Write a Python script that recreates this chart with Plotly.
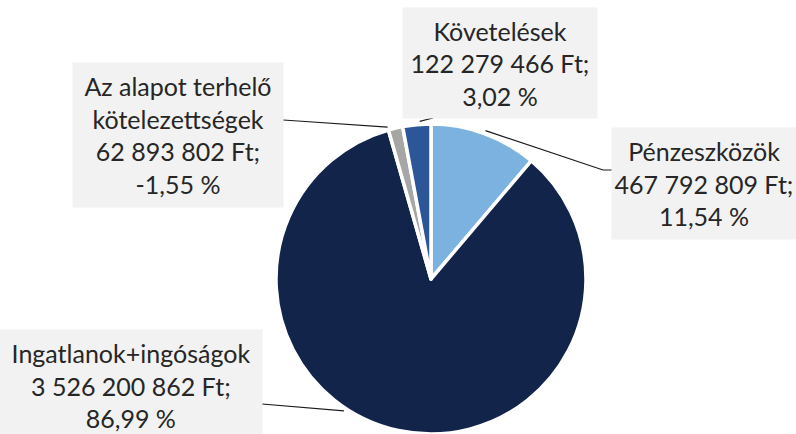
import math
import plotly.graph_objects as go

# ---- data ----
categories = ["Pénzeszközök", "Ingatlanok+ingóságok", "Az alapot terhelő<br>kötelezettségek", "Követelések"]
amounts = [467792809, 3526200862, 62893802, 122279466]
amount_labels = ["467 792 809 Ft;", "3 526 200 862 Ft;", "62 893 802 Ft;", "122 279 466 Ft;"]
percent_labels = ["11,54 %", "86,99 %", "-1,55 %", "3,02 %"]
colors = ["#7CB2DF", "#12244A", "#A6A6A6", "#2C5697"]

W, H = 796, 434
CX, CY, R = 431, 279, 155

fig = go.Figure()
fig.add_trace(go.Pie(
    labels=[c.replace("<br>", " ") for c in categories],
    values=amounts,
    sort=False,
    direction="clockwise",
    rotation=0,
    textinfo="none",
    hoverinfo="label+value",
    marker=dict(colors=colors, line=dict(color="white", width=3.5)),
    domain=dict(x=[(CX - R) / W, (CX + R) / W], y=[1 - (CY + R) / H, 1 - (CY - R) / H]),
    showlegend=False,
))

def px(x):
    return x / W

def py(y):
    return 1 - y / H

# label boxes: (center x, center y, width, height) in px
boxes = [(704, 183.5, 184, 111), (131, 385, 262, 111), (178, 135, 210, 144), (500, 63, 194, 110)]
# where along each slice the leader line attaches (fraction of slice), and the box-side endpoint/elbow
attach_frac = [0.5, 0.57, 0.0, 0.61]
elbows = [[(603, 170), (612, 170)], [(262, 404)], [(298, 121), (283, 120)], [(433, 118)]]

total = sum(amounts)
cum = 0
annotations = []
shapes = []
for i, cat in enumerate(categories):
    start = cum / total * 360
    span = amounts[i] / total * 360
    cum += amounts[i]
    ang = math.radians(start + attach_frac[i] * span)
    rr = R + 3
    ex = CX + rr * math.sin(ang)
    ey = CY - rr * math.cos(ang)
    pts = [(ex, ey)] + elbows[i]
    path = "M " + " L ".join(f"{px(x):.5f},{py(y):.5f}" for x, y in pts)
    shapes.append(dict(type="path", xref="paper", yref="paper", path=path,
                       line=dict(color="#1a1a1a", width=1.2)))
    bx, by, bw, bh = boxes[i]
    annotations.append(dict(
        x=px(bx), y=py(by), xref="paper", yref="paper", xanchor="center", yanchor="middle",
        text=f"{cat}<br>{amount_labels[i]}<br>{percent_labels[i]}",
        showarrow=False, align="center", width=bw, height=bh, valign="middle",
        bgcolor="#F2F2F2", borderpad=0,
        font=dict(family="Lato", size=25, color="#262626"),
    ))

fig.update_layout(
    width=W, height=H,
    margin=dict(l=0, r=0, t=0, b=0),
    paper_bgcolor="white", plot_bgcolor="white",
    annotations=annotations, shapes=shapes,
)
fig.write_html("out.html")
